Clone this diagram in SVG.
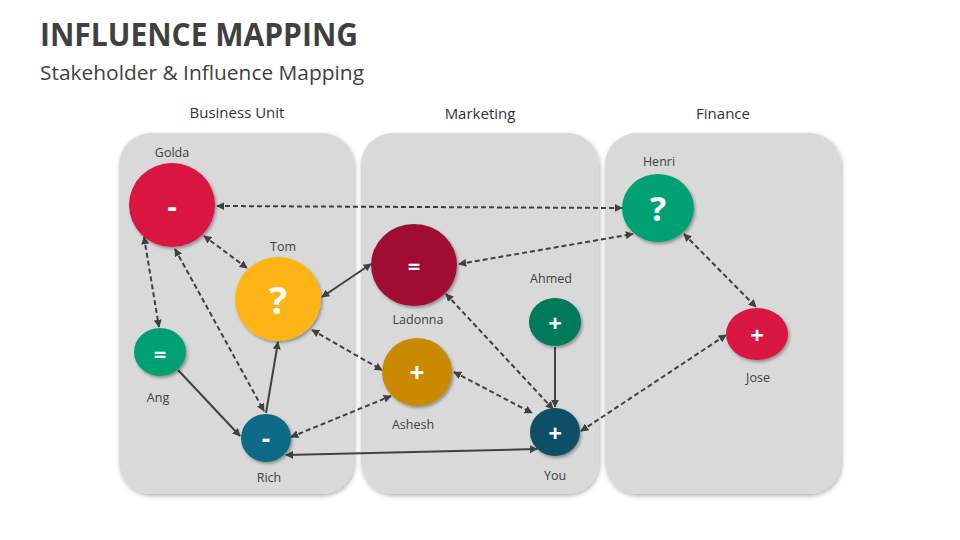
<svg xmlns="http://www.w3.org/2000/svg" width="960" height="540" viewBox="0 0 960 540">
<defs>
<style>
.title{font-family:"Open Sans","Liberation Sans",sans-serif;font-weight:bold;fill:#404040}
.sub{font-family:"Open Sans","Liberation Sans",sans-serif;fill:#404040}
.hdr{font-family:"Open Sans","Liberation Sans",sans-serif;font-size:15px;fill:#333;text-anchor:middle}
.lbl{font-family:"Open Sans","Liberation Sans",sans-serif;font-size:12.5px;fill:#404040;text-anchor:middle}
.sym{font-family:"Open Sans","Liberation Sans",sans-serif;font-weight:bold;fill:#fff;text-anchor:middle;dominant-baseline:central}
.panel{fill:#D9D9D9;filter:url(#psh)}
.node{filter:url(#nsh)}
.dash{stroke:#404040;stroke-width:2;fill:none;stroke-dasharray:5 3;marker-start:url(#ah);marker-end:url(#ah)}
.solid{stroke:#404040;stroke-width:2;fill:none}
.both{marker-start:url(#ah);marker-end:url(#ah)}
.end{marker-end:url(#ah)}
</style>
<marker id="ah" viewBox="0 0 10 10" refX="9" refY="5" markerWidth="8" markerHeight="8" markerUnits="userSpaceOnUse" orient="auto-start-reverse">
<path d="M0,0 L10,5 L0,10 z" fill="#404040"/>
</marker>
<filter id="psh" x="-10%" y="-10%" width="120%" height="120%">
<feDropShadow dx="1" dy="2" stdDeviation="2" flood-color="#000" flood-opacity="0.3"/>
</filter>
<filter id="nsh" x="-20%" y="-20%" width="140%" height="140%">
<feDropShadow dx="1.5" dy="2" stdDeviation="1.5" flood-color="#000" flood-opacity="0.35"/>
</filter>
</defs>
<rect width="960" height="540" fill="#fff"/>
<text class="title" x="40" y="46" font-size="32" textLength="318" lengthAdjust="spacingAndGlyphs">INFLUENCE MAPPING</text>
<text class="sub" x="40" y="80" font-size="20" textLength="324" lengthAdjust="spacingAndGlyphs">Stakeholder &amp; Influence Mapping</text>

<g id="panels">
<g id="panel-business"><rect class="panel" x="119" y="133" width="235" height="361" rx="32"/><text class="hdr" x="237" y="118">Business Unit</text></g>
<g id="panel-marketing"><rect class="panel" x="361" y="133" width="238" height="361" rx="32"/><text class="hdr" x="480" y="119">Marketing</text></g>
<g id="panel-finance"><rect class="panel" x="605" y="133" width="236" height="361" rx="32"/><text class="hdr" x="723" y="119">Finance</text></g>
</g>

<g id="connectors">
<line class="dash" x1="217" y1="206" x2="622" y2="208"/>
<line class="dash" x1="204" y1="236" x2="247" y2="268"/>
<line class="dash" x1="144" y1="237" x2="159" y2="327"/>
<line class="dash" x1="175" y1="249" x2="264" y2="411"/>
<line class="solid end" x1="266" y1="413" x2="278" y2="342"/>
<line class="solid end" x1="178" y1="370" x2="240" y2="436"/>
<line class="solid both" x1="322" y1="297" x2="371" y2="264"/>
<line class="dash" x1="312" y1="330" x2="382" y2="370"/>
<line class="dash" x1="291" y1="437" x2="391" y2="396"/>
<line class="solid both" x1="286" y1="455" x2="537" y2="449"/>
<line class="dash" x1="459" y1="264" x2="633" y2="234"/>
<line class="dash" x1="446" y1="294" x2="553" y2="409"/>
<line class="dash" x1="454" y1="372" x2="532" y2="413"/>
<line class="solid end" x1="555" y1="347" x2="555" y2="407"/>
<line class="dash" x1="581" y1="431" x2="726" y2="335"/>
<line class="dash" x1="684" y1="234" x2="756" y2="307"/>
</g>

<g id="golda"><ellipse class="node" cx="172" cy="205" rx="43" ry="42" fill="#D91443"/><text class="sym" x="172" y="205" font-size="30">-</text><text class="lbl" x="172" y="157">Golda</text></g>
<g id="tom"><ellipse class="node" cx="278" cy="299" rx="43" ry="42" fill="#FDB515"/><text class="sym" x="278" y="299" font-size="38">?</text><text class="lbl" x="283" y="251">Tom</text></g>
<g id="ang"><ellipse class="node" cx="160" cy="352" rx="26" ry="24" fill="#06A075"/><text class="sym" x="160" y="353" font-size="22">=</text><text class="lbl" x="158" y="402">Ang</text></g>
<g id="rich"><ellipse class="node" cx="266" cy="438" rx="25" ry="24" fill="#0F6A87"/><text class="sym" x="266" y="438" font-size="26">-</text><text class="lbl" x="269" y="482">Rich</text></g>
<g id="ladonna"><ellipse class="node" cx="414" cy="265" rx="43" ry="41" fill="#A10E32"/><text class="sym" x="414" y="265" font-size="22">=</text><text class="lbl" x="418" y="324">Ladonna</text></g>
<g id="ashesh"><ellipse class="node" cx="417" cy="372" rx="35" ry="34" fill="#C98A00"/><text class="sym" x="417" y="372" font-size="26">+</text><text class="lbl" x="413" y="429">Ashesh</text></g>
<g id="ahmed"><ellipse class="node" cx="555" cy="322" rx="26" ry="24" fill="#047A5A"/><text class="sym" x="555" y="322" font-size="24">+</text><text class="lbl" x="551" y="283">Ahmed</text></g>
<g id="you"><ellipse class="node" cx="555" cy="432" rx="25" ry="24" fill="#0A4F66"/><text class="sym" x="555" y="432" font-size="24">+</text><text class="lbl" x="555" y="480">You</text></g>
<g id="henri"><ellipse class="node" cx="658" cy="208" rx="36" ry="34" fill="#06A075"/><text class="sym" x="658" y="208" font-size="34">?</text><text class="lbl" x="659" y="166">Henri</text></g>
<g id="jose"><ellipse class="node" cx="757" cy="334" rx="31" ry="26" fill="#D91443"/><text class="sym" x="757" y="334" font-size="24">+</text><text class="lbl" x="758" y="382">Jose</text></g>
</svg>
